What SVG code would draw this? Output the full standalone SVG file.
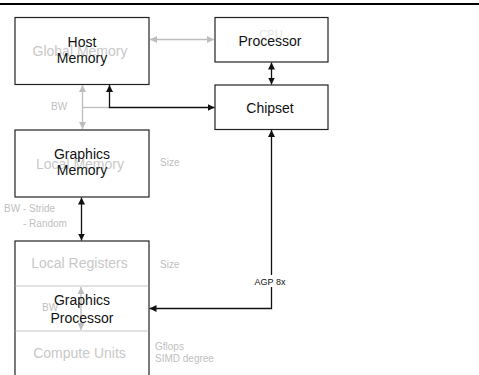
<svg xmlns="http://www.w3.org/2000/svg" width="479" height="375" viewBox="0 0 479 375">
<style>
.box{fill:#fff;stroke:#222;stroke-width:1.2}
.div{stroke:#c4c4c4;stroke-width:1}
.t{font-family:"Liberation Sans",Arial,sans-serif;font-size:14px;fill:#111;text-anchor:middle}
.g{font-family:"Liberation Sans",Arial,sans-serif;font-size:14px;fill:#c8c8c8;text-anchor:middle}
.s{font-family:"Liberation Sans",Arial,sans-serif;font-size:10px;fill:#c0c0c0}
.lbl{font-family:"Liberation Sans",Arial,sans-serif;font-size:9px;fill:#111;text-anchor:middle}
.k{fill:none;stroke:#111;stroke-width:1.3}
.gl{fill:none;stroke:#bdbdbd;stroke-width:1.3}
</style>
<defs>
<marker id="ak" viewBox="0 0 10 10" refX="10" refY="5" markerWidth="7" markerHeight="7" markerUnits="userSpaceOnUse" orient="auto-start-reverse"><path d="M0,0 L10,5 L0,10 z" fill="#111"/></marker>
<marker id="ag" viewBox="0 0 10 10" refX="10" refY="5" markerWidth="7" markerHeight="7" markerUnits="userSpaceOnUse" orient="auto-start-reverse"><path d="M0,0 L10,5 L0,10 z" fill="#bdbdbd"/></marker>
</defs>
<rect width="479" height="375" fill="#fff"/>
<line x1="0" y1="4" x2="479" y2="4" stroke="#000" stroke-width="2"/>

<g id="host-memory">
<rect class="box" x="15" y="17.5" width="134" height="67"/>
<text class="g" x="80" y="56">Global Memory</text>
<text class="t" x="82" y="47">Host</text>
<text class="t" x="82" y="63">Memory</text>
</g>

<g id="processor">
<rect class="box" x="215" y="17.5" width="113" height="44.5"/>
<text class="g" x="271" y="38" style="fill:#e6e6e6;font-size:11px">CPU</text>
<text class="t" x="270" y="45.5">Processor</text>
</g>

<g id="chipset">
<rect class="box" x="215" y="85" width="113" height="44.5"/>
<text class="t" x="270" y="112.5">Chipset</text>
</g>

<g id="graphics-memory">
<rect class="box" x="15" y="130" width="134" height="67"/>
<text class="g" x="80" y="169">Local Memory</text>
<text class="t" x="82" y="159">Graphics</text>
<text class="t" x="82" y="175">Memory</text>
</g>

<g id="graphics-processor">
<rect class="box" x="15" y="241" width="134" height="140"/>
<line class="div" x1="15.6" y1="286" x2="148.4" y2="286"/>
<line class="div" x1="15.6" y1="331" x2="148.4" y2="331"/>
<text class="g" x="79.5" y="268">Local Registers</text>
<text class="g" x="79.5" y="358">Compute Units</text>
<path class="gl" d="M81,287 V330" marker-start="url(#ag)" marker-end="url(#ag)"/>
<text class="s" x="42" y="311">BW</text>
<text class="t" x="82" y="305">Graphics</text>
<text class="t" x="82" y="322.5">Processor</text>
</g>

<g id="connectors">
<path class="gl" d="M150,39.5 H214" marker-start="url(#ag)" marker-end="url(#ag)"/>
<path class="gl" d="M82.5,85 V129" marker-start="url(#ag)" marker-end="url(#ag)"/>
<path class="gl" d="M83,107.5 H109"/>
<path class="k" d="M271.5,62.5 V84.5" marker-start="url(#ak)" marker-end="url(#ak)"/>
<path class="k" d="M109.5,85 V107.5 H214.5" marker-start="url(#ak)" marker-end="url(#ak)"/>
<path class="k" d="M81.5,197.5 V240.5" marker-start="url(#ak)" marker-end="url(#ak)"/>
<path class="k" d="M271.5,130 V308.5 H149.5" marker-start="url(#ak)" marker-end="url(#ak)"/>
<rect x="252" y="275" width="36" height="12" fill="#fff"/>
<text class="lbl" x="270" y="285">AGP 8x</text>
</g>

<g id="labels">
<text class="s" x="51" y="110">BW</text>
<text class="s" x="160" y="166">Size</text>
<text class="s" x="4" y="212">BW - Stride</text>
<text class="s" x="23" y="227">- Random</text>
<text class="s" x="160" y="268">Size</text>
<text class="s" x="155" y="350">Gflops</text>
<text class="s" x="155" y="362">SIMD degree</text>
</g>
</svg>
